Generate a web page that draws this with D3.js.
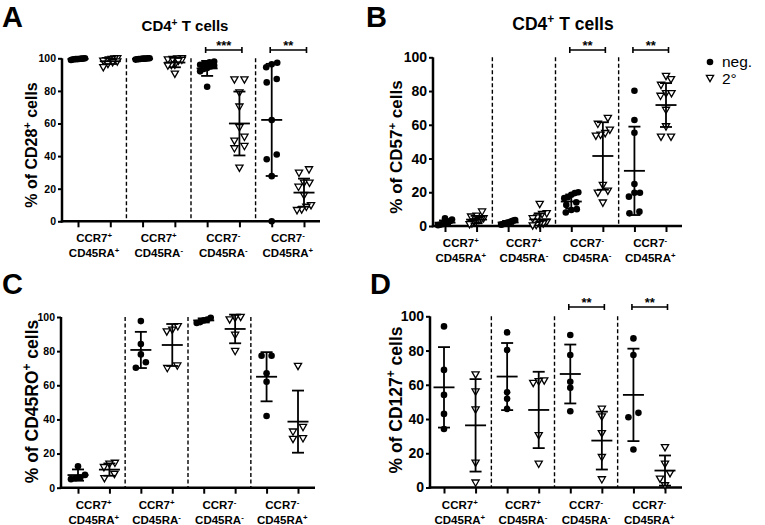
<!DOCTYPE html>
<html>
<head>
<meta charset="utf-8">
<script src="https://cdn.jsdelivr.net/npm/d3@7"></script>
<style>
body { margin: 0; background: #fff; }
svg { display: block; font-family: "Liberation Sans", Arial, sans-serif; }
</style>
</head>
<body>
<svg width="765" height="525"></svg>
<script>
// groups along the x axis, each with a "neg." and a "2°" column
const ccr7Sign = ["+", "+", "-", "-"];
const cd45raSign = ["+", "-", "-", "+"];
const seriesNames = ["neg.", "2°"];
const yTicks = [0, 20, 40, 60, 80, 100];

// columns: [grp1 neg, grp1 2°, grp2 neg, grp2 2°, ...]
const cd28Values = [
  [100, 99.9, 99.8, 99.7, 99.6, 99.5, 99.5, 99.4, 99.2, 99.0],
  [100, 99.8, 99.5, 99.2, 98.8, 98.5, 98, 97.5, 96.5, 94.5],
  [100, 100, 99.9, 99.8, 99.8, 99.7, 99.6, 99.5, 99.4, 99.2],
  [100, 99.8, 99.5, 99.2, 99, 98.5, 96, 95.8, 95.5, 90.5],
  [98, 97.5, 97, 96, 95.5, 95, 94, 93.5, 92, 82.5],
  [87, 87, 79, 70.3, 57.6, 51.8, 49.4, 46.1, 44.7, 32.8],
  [97.3, 96.3, 94.5, 87.3, 85.2, 62.1, 41, 38.1, 27.7, 0],
  [31.8, 29.7, 23.6, 23.6, 21.1, 16, 9.8, 8.8, 7.2, 6.8]
];
const cd28Mean = [99.6, 98.2, 99.7, 97.4, 93.8, 60, 62.2, 17.6];
const cd28Sd = [0.4, 1.7, 0.3, 2.9, 4.6, 19.6, 34.4, 8.6];
const cd28Stars = ["", "", "***", "**"];

const cd57Values = [
  [4.5, 3.8, 3, 2.5, 2, 1.5, 1.2, 1, 0.7, 0.5],
  [8.5, 6, 5.5, 4.5, 4, 3.5, 3, 2.5, 1.5, 1],
  [3.5, 3.2, 3, 2.5, 2, 2, 1.5, 1.5, 1, 0.8],
  [13, 7.5, 7, 5, 4.5, 2.5, 1.5, 1, 0.5, 0.3],
  [20, 19.5, 18.5, 17, 16.5, 14, 12.5, 10, 9.5, 8],
  [64, 60.5, 57, 55, 54, 53.5, 24.3, 20.9, 19.7, 13.8],
  [80.2, 62.8, 55.3, 24.9, 19.7, 19.7, 17.4, 8.5, 7.5],
  [88.9, 87, 83.6, 78.7, 78.7, 77.1, 68.8, 59, 52.9, 52.9]
];
const cd57Mean = [2, 3.8, 2.1, 3.9, 14.5, 41.5, 32.7, 71.7];
const cd57Sd = [1.3, 2.2, 0.9, 3.6, 4.2, 20, 26.2, 13];
const cd57Stars = ["", "", "**", "**"];

const cd45roValues = [
  [12.5, 7.5, 6, 5.5, 5],
  [14.5, 14, 12, 8, 5.5],
  [97.6, 84.2, 78.1, 73.5, 70.3],
  [94.5, 92.5, 91.5, 71.5, 70],
  [99.5, 98.5, 98, 97, 96.5],
  [100, 99.5, 98.5, 89.5, 80],
  [77.3, 77.3, 67, 62.1, 42],
  [71.3, 35.5, 32.8, 28.9, 28.5]
];
const cd45roMean = [7.4, 10.6, 80.7, 83.6, 98, 93, 65, 38.7];
const cd45roSd = [3.3, 3.6, 10.6, 12.3, 1.2, 8.4, 14.4, 18.2];
const cd45roStars = ["", "", "", ""];

const cd127Values = [
  [94.1, 68.7, 54.1, 43, 34.2],
  [66, 56, 45.5, 14.4, 2.8],
  [90.6, 80.3, 55.6, 51.8, 45.9],
  [62.5, 62, 61, 30.5, 13.8],
  [89.1, 77.4, 61.8, 58.2, 44.5],
  [45.9, 41.4, 31.7, 17.7, 4.7],
  [87.1, 77.4, 43.6, 41, 22.2],
  [23.5, 13.8, 8.3, 5.1, 1.2]
];
const cd127Mean = [58.5, 36.3, 64.8, 45.3, 66.3, 27.4, 54.1, 9.9];
const cd127Sd = [23.5, 27, 19.6, 22.3, 17.2, 16.9, 27, 8.8];
const cd127Stars = ["", "", "**", "**"];

// layout of the four panels (pixel geometry)
const panels = [
  { letter: "A", lx: 2, ly: 26.5, marker: "CD28", values: cd28Values, mean: cd28Mean, sd: cd28Sd, stars: cd28Stars,
    left: 62, x0: 78, x7: 304, right: 320, top: 58.3, bottom: 221.3,
    tickFont: 10.5, labFont: 16, labX: 37, labY: 145, brY: 50, title: { x: 185, y: 31, size: 15 } },
  { letter: "B", lx: 366, ly: 26.5, marker: "CD57", values: cd57Values, mean: cd57Mean, sd: cd57Sd, stars: cd57Stars,
    left: 433, x0: 445, x7: 666, right: 682, top: 57.3, bottom: 226,
    tickFont: 14, labFont: 17, labX: 402, labY: 147, brY: 50, title: { x: 563, y: 30, size: 17.5 }, legend: true },
  { letter: "C", lx: 2, ly: 294, marker: "CD45RO", values: cd45roValues, mean: cd45roMean, sd: cd45roSd, stars: cd45roStars,
    left: 61, x0: 78, x7: 298, right: 315, top: 317, bottom: 487.7,
    tickFont: 10.5, labFont: 17.5, labX: 38, labY: 401.5, brY: 0 },
  { letter: "D", lx: 370, ly: 294, marker: "CD127", values: cd127Values, mean: cd127Mean, sd: cd127Sd, stars: cd127Stars,
    left: 430, x0: 444, x7: 665, right: 682, top: 316.3, bottom: 487.5,
    tickFont: 14, labFont: 17.5, labX: 402, labY: 400, brY: 307 }
];

const svg = d3.select("svg");

function richText(g, x, y, parts) {
  const t = g.append("text").attr("x", x).attr("y", y);
  parts.forEach(([s, sup]) => {
    const ts = t.append("tspan").text(s);
    if (sup) ts.attr("baseline-shift", "super").attr("font-size", "68%");
  });
  return t;
}

function triPath(cx, cy) {
  return `M${cx - 3.6},${cy - 2.7}L${cx + 3.6},${cy - 2.7}L${cx},${cy + 3.6}Z`;
}

// spread points with close values sideways, like a column scatter
function swarm(vals, y) {
  const order = vals.map((v, i) => i).sort((a, b) => vals[a] - vals[b]);
  const off = new Array(vals.length).fill(0);
  const rows = [];
  let cur = [];
  order.forEach(i => {
    if (cur.length && Math.abs(y(vals[i]) - y(vals[cur[0]])) > 6) { rows.push(cur); cur = []; }
    cur.push(i);
  });
  if (cur.length) rows.push(cur);
  rows.forEach(r => {
    const k = r.length;
    const step = k === 2 ? 10 : Math.min(5.5, 14 / Math.max(1, k - 1));
    r.forEach((i, j) => { off[i] = (j - (k - 1) / 2) * step; });
  });
  return off;
}

function drawPanel(p) {
  const g = svg.append("g");
  const y = d3.scaleLinear().domain([0, 100]).range([p.bottom, p.top]);
  const x = d3.scaleLinear().domain([0, 7]).range([p.x0, p.x7]);

  g.append("text").attr("x", p.lx).attr("y", p.ly)
    .attr("font-size", 29).attr("font-weight", "bold").text(p.letter);

  if (p.title) {
    richText(g, p.title.x, p.title.y, [["CD4", false], ["+", true], [" T cells", false]])
      .attr("text-anchor", "middle").attr("font-size", p.title.size).attr("font-weight", "bold");
  }

  // dashed separators between groups
  [1.5, 3.5, 5.5].forEach(v => {
    g.append("line").attr("x1", x(v)).attr("x2", x(v)).attr("y1", y(100)).attr("y2", y(0))
      .attr("stroke", "#000").attr("stroke-width", 1.4).attr("stroke-dasharray", "4,2.5");
  });

  // y axis
  const ya = g.append("g").attr("transform", `translate(${p.left},0)`)
    .call(d3.axisLeft(y).tickValues(yTicks).tickSize(4).tickSizeOuter(0).tickPadding(2));
  ya.select(".domain").remove();
  ya.selectAll(".tick line").attr("stroke-width", 2);
  ya.selectAll(".tick text").attr("font-size", p.tickFont).attr("font-weight", "bold")
    .attr("font-family", "Liberation Sans, Arial, sans-serif").attr("fill", "#000");
  g.append("line").attr("x1", p.left).attr("x2", p.left).attr("y1", y(100)).attr("y2", y(0) + 1.25)
    .attr("stroke", "#000").attr("stroke-width", 2.5);

  // x axis
  const xa = g.append("g").attr("transform", `translate(0,${p.bottom})`)
    .call(d3.axisBottom(x).tickValues(d3.range(8)).tickFormat("").tickSize(6).tickSizeOuter(0));
  xa.select(".domain").remove();
  xa.selectAll(".tick line").attr("stroke-width", 2);
  g.append("line").attr("x1", p.left - 1.25).attr("x2", p.right).attr("y1", y(0)).attr("y2", y(0))
    .attr("stroke", "#000").attr("stroke-width", 2.5);

  // group labels
  ccr7Sign.forEach((s, k) => {
    const cx = (x(2 * k) + x(2 * k + 1)) / 2;
    richText(g, cx, p.bottom + 21, [["CCR7", false], [s, true]])
      .attr("text-anchor", "middle").attr("font-size", 11.5).attr("font-weight", "bold");
    richText(g, cx, p.bottom + 36, [["CD45RA", false], [cd45raSign[k], true]])
      .attr("text-anchor", "middle").attr("font-size", 11.5).attr("font-weight", "bold");
  });

  // y label
  richText(g, 0, 0, [["% of " + p.marker, false], ["+", true], [" cells", false]])
    .attr("transform", `translate(${p.labX},${p.labY}) rotate(-90)`)
    .attr("text-anchor", "middle").attr("font-size", p.labFont).attr("font-weight", "bold");

  // points
  p.values.forEach((vals, i) => {
    const off = swarm(vals, y);
    const cx = x(i);
    if (i % 2 === 0) {
      g.selectAll(null).data(vals).enter().append("circle")
        .attr("cx", (d, j) => cx + off[j]).attr("cy", d => y(d)).attr("r", 3.3).attr("fill", "#000");
    } else {
      g.selectAll(null).data(vals).enter().append("path")
        .attr("d", (d, j) => triPath(cx + off[j], y(d)))
        .attr("fill", "#fff").attr("stroke", "#000").attr("stroke-width", 1.3);
    }
  });

  // mean and SD
  p.mean.forEach((m, i) => {
    const cx = x(i), s = p.sd[i];
    const lo = Math.max(0, m - s), hi = m + s;
    const st = { stroke: "#000", "stroke-width": 1.8 };
    const ln = (x1, y1, x2, y2) => {
      const l = g.append("line").attr("x1", x1).attr("y1", y1).attr("x2", x2).attr("y2", y2);
      Object.entries(st).forEach(([k, v]) => l.attr(k, v));
    };
    ln(cx, y(lo), cx, y(hi));
    ln(cx - 6, y(hi), cx + 6, y(hi));
    ln(cx - 6, y(lo), cx + 6, y(lo));
    ln(cx - 10.5, y(m), cx + 10.5, y(m));
  });

  // significance brackets
  p.stars.forEach((s, k) => {
    if (!s) return;
    const x1 = x(2 * k) - 1.5, x2 = x(2 * k + 1) + 2.5;
    g.append("path").attr("d", `M${x1},${p.brY - 3}V${p.brY + 3}M${x1},${p.brY}H${x2}M${x2},${p.brY - 3}V${p.brY + 3}`)
      .attr("fill", "none").attr("stroke", "#000").attr("stroke-width", 1.6);
    g.append("text").attr("x", (x1 + x2) / 2).attr("y", p.brY - 0.5)
      .attr("text-anchor", "middle").attr("font-size", 13).attr("font-weight", "bold").text(s);
  });

  if (p.legend) {
    const lg = g.append("g");
    lg.append("circle").attr("cx", 710).attr("cy", 62).attr("r", 3.3).attr("fill", "#000");
    lg.append("path").attr("d", triPath(710, 78)).attr("fill", "#fff").attr("stroke", "#000").attr("stroke-width", 1.3);
    seriesNames.forEach((n, i) => {
      lg.append("text").attr("x", 722).attr("y", 67 + i * 17).attr("font-size", 15.5).text(n);
    });
  }
}

panels.forEach(drawPanel);
</script>
</body>
</html>
